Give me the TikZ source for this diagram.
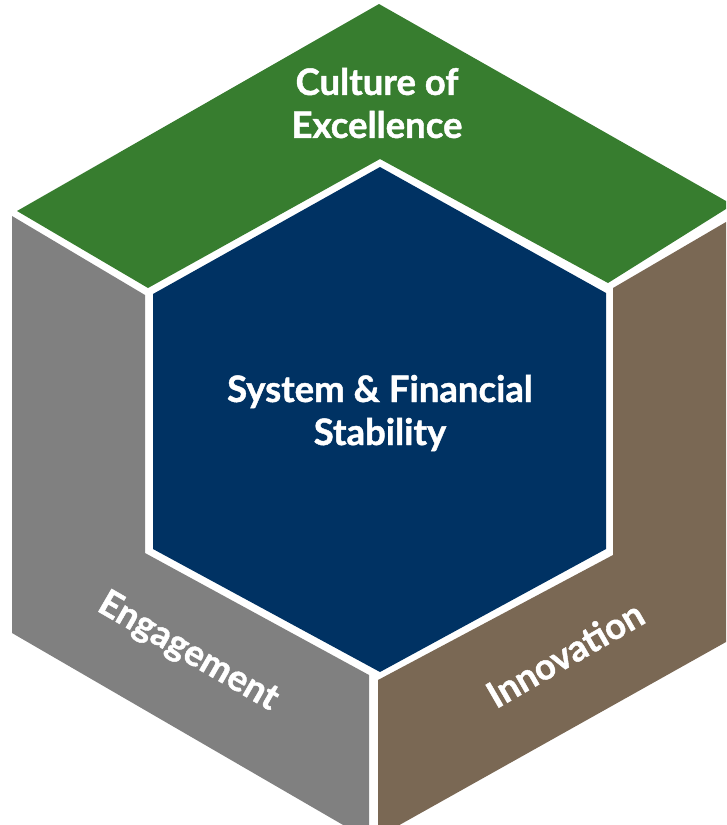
\documentclass[tikz,border=0pt]{standalone}
\usepackage{fontspec}
\setmainfont{Lato}[BoldFeatures={FakeBold=1.2}]
\definecolor{facegreen}{RGB}{55,125,47}
\definecolor{facegray}{RGB}{128,128,128}
\definecolor{facebrown}{RGB}{122,104,84}
\definecolor{coreblue}{RGB}{0,50,99}
\tikzset{
  label/.style={text=white, font=\bfseries\fontsize{36.5}{43}\selectfont, align=center, inner sep=0pt},
}
\begin{document}
\begin{tikzpicture}[x=1pt,y=-1pt]
\useasboundingbox (0,0) rectangle (726,825);
\clip (0,0) rectangle (726,825);
% top face
\fill[facegreen] (379,4) -- (726,201) -- (726,209) -- (608,283) -- (380,159) -- (148,288) -- (17,211) -- cycle;
% left face
\fill[facegray] (12,216) -- (145,295) -- (145,553) -- (369,675) -- (369,840) -- (12,633) -- cycle;
% right face
\fill[facebrown] (613,288) -- (726,222) -- (726,642) -- (378,837) -- (378,680) -- (613,555) -- cycle;
% core hexagon
\fill[coreblue] (380,167) -- (606,293) -- (606,549) -- (380,672) -- (153,549) -- (153,294) -- cycle;
% labels
\node[label] (culture) at (377,103) {Culture of\\Excellence};
\node[label] (core) at (380,413) {System \& Financial\\Stability};
\node[label, rotate=-30] (engage) at (188,652) {Engagement};
\node[label, rotate=30] (innov) at (565,654) {Innovation};
\end{tikzpicture}
\end{document}
